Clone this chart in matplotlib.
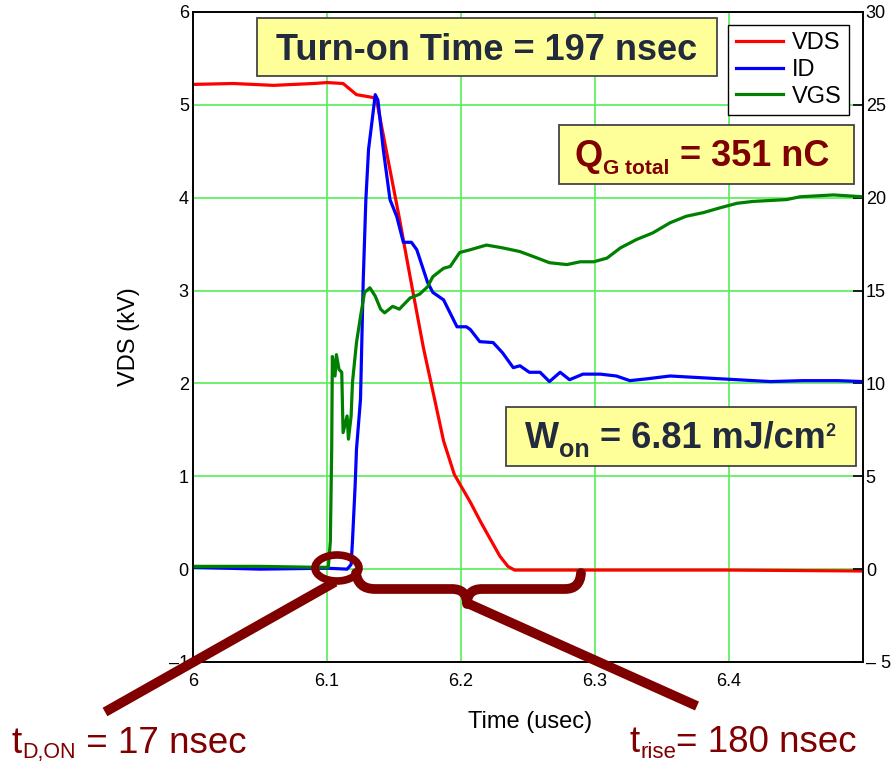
import matplotlib
matplotlib.use("Agg")
import matplotlib.pyplot as plt
from matplotlib import transforms
from matplotlib.patches import Ellipse, Rectangle, PathPatch
from matplotlib.path import Path
from matplotlib.lines import Line2D

plt.rcParams["font.family"] = ["Liberation Sans", "DejaVu Sans"]

# VDS trace (kV, left axis)
vds_t = [6.0, 6.03, 6.06, 6.09, 6.1, 6.112, 6.117, 6.122, 6.13, 6.134, 6.137,
         6.145, 6.154, 6.162, 6.172, 6.18, 6.187, 6.195, 6.207, 6.215, 6.222,
         6.229, 6.235, 6.24, 6.3, 6.4, 6.5]
vds_v = [5.22, 5.23, 5.21, 5.23, 5.24, 5.23, 5.17, 5.11, 5.09, 5.08, 5.05,
         4.45, 3.78, 3.15, 2.38, 1.85, 1.38, 1.02, 0.72, 0.5, 0.32,
         0.14, 0.03, -0.01, -0.01, -0.01, -0.02]

# ID trace (right axis units)
id_t = [6.0, 6.05, 6.1, 6.115, 6.118, 6.119, 6.121, 6.122, 6.125, 6.127, 6.129,
        6.131, 6.134, 6.136, 6.138, 6.142, 6.147, 6.152, 6.157, 6.163, 6.167,
        6.175, 6.179, 6.187, 6.197, 6.204, 6.207, 6.214, 6.224, 6.231, 6.239,
        6.244, 6.251, 6.259, 6.266, 6.274, 6.281, 6.291, 6.304, 6.316, 6.326,
        6.339, 6.356, 6.381, 6.406, 6.431, 6.455, 6.481, 6.5]
id_v = [0.1, 0.0, 0.05, 0.0, 0.25, 1.5, 4.5, 6.45, 9.15, 15.45, 19.9,
        22.6, 24.35, 25.55, 25.25, 22.6, 19.9, 19.0, 17.6, 17.6, 17.2,
        15.45, 14.9, 14.5, 13.05, 13.05, 12.9, 12.25, 12.2, 11.65, 10.85,
        10.95, 10.6, 10.6, 10.1, 10.6, 10.2, 10.5, 10.5, 10.4, 10.15,
        10.25, 10.4, 10.3, 10.2, 10.1, 10.15, 10.15, 10.1]

# VGS trace (right axis units)
vgs_t = [6.0, 6.05, 6.09, 6.101, 6.1025, 6.1035, 6.104, 6.106, 6.107, 6.109,
         6.111, 6.112, 6.115, 6.116, 6.118, 6.119, 6.122, 6.125, 6.128, 6.132,
         6.136, 6.14, 6.143, 6.149, 6.154, 6.162, 6.169, 6.175, 6.179, 6.187,
         6.192, 6.199, 6.207, 6.219, 6.231, 6.244, 6.257, 6.266, 6.279, 6.289,
         6.299, 6.309, 6.319, 6.331, 6.343, 6.356, 6.368, 6.381, 6.393, 6.406,
         6.418, 6.443, 6.453, 6.478, 6.5]
vgs_v = [0.15, 0.15, 0.1, 0.1, 1.5, 6.45, 11.45, 10.4, 11.55, 10.75,
         10.6, 7.35, 8.25, 7.0, 8.25, 10.05, 12.2, 13.6, 14.9, 15.15,
         14.7, 14.0, 13.8, 14.15, 14.0, 14.6, 14.8, 15.2, 15.75, 16.2,
         16.3, 17.05, 17.2, 17.45, 17.3, 17.1, 16.75, 16.5, 16.4, 16.55,
         16.55, 16.75, 17.3, 17.75, 18.1, 18.65, 19.0, 19.2, 19.45, 19.7,
         19.8, 19.9, 20.05, 20.15, 20.05]

x_ticks = [6.0, 6.1, 6.2, 6.3, 6.4]
x_labels = ["6", "6.1", "6.2", "6.3", "6.4"]
left_ticks = [-1, 0, 1, 2, 3, 4, 5, 6]
left_labels = ["\u20131", "0", "1", "2", "3", "4", "5", "6"]
right_ticks = [-5, 0, 5, 10, 15, 20, 25, 30]
right_labels = ["\u2013 5", "0", "5", "10", "15", "20", "25", "30"]

DARK_RED = "#800000"
NAVY = "#222a3d"
BOX_FILL = "#ffff99"

W, H = 892, 762
fig = plt.figure(figsize=(W / 100, H / 100), dpi=100)
# pixel coords, origin top-left, for the overlay annotations
P = transforms.Affine2D().scale(1 / W, -1 / H).translate(0, 1) + fig.transFigure

ax = fig.add_axes([193 / W, 100 / H, 670 / W, 650 / H])
ax2 = ax.twinx()

l1, = ax.plot(vds_t, vds_v, color="#ff0000", lw=2.3, label="VDS")
l2, = ax2.plot(id_t, id_v, color="#0000ff", lw=2.3, label="ID")
l3, = ax2.plot(vgs_t, vgs_v, color="#008000", lw=2.3, label="VGS")

ax.set_xlim(6.0, 6.5)
ax.set_ylim(-1, 6)
ax2.set_ylim(-5, 30)
ax.set_xticks(x_ticks)
ax.set_xticklabels(x_labels)
ax.set_yticks(left_ticks)
ax.set_yticklabels(left_labels)
ax2.set_yticks(right_ticks)
ax2.set_yticklabels(right_labels)
ax.grid(True, color="#55ee55", lw=1.2)
ax.tick_params(axis="both", length=0, labelsize=13)
ax.tick_params(axis="x", pad=8)
ax.tick_params(axis="y", pad=3)
ax2.tick_params(axis="y", direction="in", length=7, width=1.2, labelsize=13, pad=2)
for a in (ax, ax2):
    for s in a.spines.values():
        s.set_linewidth(1.2)

ax.set_xlabel("Time (usec)", fontsize=17)
ax.xaxis.set_label_coords(0.503, -0.075)
ax.set_ylabel("VDS (kV)", fontsize=17, va="center")
ax.yaxis.set_label_coords(-0.0955, 0.5)

leg = ax2.legend(handles=[l1, l2, l3], loc="upper right",
                 bbox_to_anchor=(849 / W, 1 - 25 / H), bbox_transform=fig.transFigure,
                 fontsize=17, fancybox=False, edgecolor="black", framealpha=1,
                 handlelength=2.0, handletextpad=0.4, borderpad=0.3,
                 labelspacing=0.2, borderaxespad=0)
leg.get_frame().set_linewidth(1.0)

# yellow boxes
for x0, y0, x1, y1 in [(257, 18, 717, 76), (559, 125, 854, 184), (506, 407, 856, 466)]:
    fig.add_artist(Rectangle((x0, y1), x1 - x0, y0 - y1, transform=P,
                             facecolor=BOX_FILL, edgecolor="#444444", lw=1.3))

fig.text(487, 60, "Turn-on Time = 197 nsec", transform=P, fontsize=26,
         fontweight="bold", color=NAVY, ha="center", va="baseline")

renderer = fig.canvas.get_renderer()


def rich(x, y, pieces, color, weight):
    for s, size, dy in pieces:
        t = fig.text(x, y + dy, s, transform=P, fontsize=size, color=color,
                     fontweight=weight, ha="left", va="baseline")
        bb = t.get_window_extent(renderer)
        x = P.inverted().transform((bb.x1, bb.y0))[0]


rich(575, 166, [("Q", 26, 0), ("G total", 15, 8), (" = 351 nC", 26, 0)], DARK_RED, "bold")
rich(525, 448, [("W", 26, 0), ("on", 18, 9), (" = 6.81 mJ/cm", 26, 0), ("2", 13, -12)],
     NAVY, "bold")
rich(12, 753, [("t", 26.5, 0), ("D,ON", 15.5, 5), (" = 17 nsec", 26.5, 0)], DARK_RED, "normal")
rich(630, 752, [("t", 26.5, 0), ("rise", 16, 6), ("= 180 nsec", 26.5, 0)], DARK_RED, "normal")

# circle, brace and pointer lines
fig.add_artist(Ellipse((337, 568), 44, 26, transform=P, fill=False,
                       edgecolor=DARK_RED, lw=5.5))
brace = Path([(356, 573), (358, 589), (375, 589), (452, 589), (467, 589), (467, 604),
              (467, 589), (482, 589), (565, 589), (580, 589), (581, 573)],
             [Path.MOVETO, Path.CURVE3, Path.CURVE3, Path.LINETO, Path.CURVE3, Path.CURVE3,
              Path.CURVE3, Path.CURVE3, Path.LINETO, Path.CURVE3, Path.CURVE3])
fig.add_artist(PathPatch(brace, transform=P, fill=False, edgecolor=DARK_RED, lw=7,
                         capstyle="round", joinstyle="round"))
fig.add_artist(Line2D([335, 105], [582, 712], transform=P, color=DARK_RED, lw=7,
                      solid_capstyle="butt"))
fig.add_artist(Line2D([467, 697], [603, 706], transform=P, color=DARK_RED, lw=7,
                      solid_capstyle="butt"))

fig.savefig("out.png", dpi=100)
